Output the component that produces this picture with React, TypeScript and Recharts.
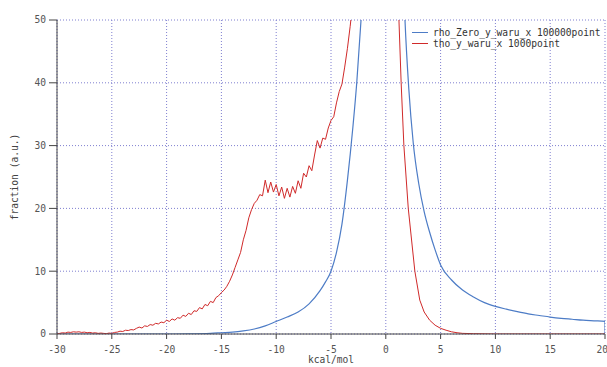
import { CartesianGrid, Label, Line, LineChart, XAxis, YAxis } from "recharts";

const xTicks = [-30, -25, -20, -15, -10, -5, 0, 5, 10, 15, 20];
const yTicks = [0, 10, 20, 30, 40, 50];

// rho_Zero_y_waru_x 100000point
const blueX = [
  -30, -28, -26, -24, -22, -20, -18, -16, -15, -14, -13, -12, -11, -10, -9, -8, -7, -6, -5.5, -5, -4.5,
  -4, -3.5, -3, -2.65, -2.26, -2, -1.5, -1, -0.5, 0, 0.5, 1, 1.5, 1.75, 2.1, 2.5, 3, 3.5, 4, 4.5, 5, 6,
  7, 8, 9, 10, 11, 12, 13, 14, 15, 16, 17, 18, 19, 20, 20.01,
];
const blueY = [
  0, 0, 0, 0, 0, 0, 0.02, 0.1, 0.2, 0.3, 0.5, 0.8, 1.3, 2.0, 2.7, 3.5, 4.8, 6.9, 8.3, 10, 13,
  17.5, 24.5, 33, 40, 50, 58, 75, 100, 130, 150, 130, 100, 62, 50, 39, 30.5, 24, 19.5, 16.2, 13.4, 11.0, 8.6,
  7.0, 5.9, 5.0, 4.4, 3.95, 3.55, 3.2, 2.95, 2.7, 2.5, 2.35, 2.2, 2.1, 2.0, 0,
];

// tho_y_waru_x 1000point
const redX = [
  -30, -29.75, -29.5, -29.25, -29, -28.75, -28.5, -28.25, -28, -27.75, -27.5, -27.25, -27, -26.75,
  -26.5, -26.25, -26, -25.75, -25.5, -25.25, -25, -24.75, -24.5, -24.25, -24, -23.75, -23.5, -23.25,
  -23, -22.75, -22.5, -22.25, -22, -21.75, -21.5, -21.25, -21, -20.75, -20.5, -20.25, -20, -19.75,
  -19.5, -19.25, -19, -18.75, -18.5, -18.25, -18, -17.75, -17.5, -17.25, -17, -16.75, -16.5, -16.25,
  -16, -15.75, -15.5, -15.25, -15, -14.75, -14.5, -14.25, -14, -13.75, -13.5, -13.25, -13, -12.75,
  -12.5, -12.25, -12, -11.75, -11.5, -11.25, -11, -10.75, -10.5, -10.25, -10, -9.75, -9.5, -9.25, -9,
  -8.75, -8.5, -8.25, -8, -7.75, -7.5, -7.25, -7, -6.75, -6.5, -6.25, -6, -5.75, -5.5, -5.25, -5,
  -4.75, -4.5, -4.25, -4, -3.75, -3.5, -3.25, -3, -2.5, -2, -1, 0, 1, 1.2, 1.4, 1.65, 2.05, 2.65, 3.1,
  3.5, 4, 4.5, 5, 5.5, 6, 6.5, 7, 8, 10, 15, 20,
];
const redY = [
  0, 0.1, 0.2, 0.15, 0.3, 0.25, 0.35, 0.3, 0.35, 0.25, 0.3, 0.2, 0.25, 0.15,
  0.2, 0.1, 0.15, 0.1, 0.05, 0.15, 0.1, 0.25, 0.3, 0.45, 0.4, 0.6, 0.55, 0.7,
  0.65, 0.9, 1.1, 0.95, 1.3, 1.2, 1.5, 1.4, 1.7, 1.6, 1.9, 1.8, 2.2, 2.0,
  2.4, 2.2, 2.6, 2.5, 3.0, 2.8, 3.3, 3.1, 3.7, 3.6, 4.2, 4.0, 4.7, 4.5,
  5.2, 5.0, 5.8, 6.1, 6.6, 7.0, 7.6, 8.4, 9.4, 10.6, 11.8, 13.0, 15.0, 16.5,
  18.5, 19.8, 20.8, 21.3, 22.2, 22.0, 24.5, 22.5, 24.2, 22.6, 23.8, 22.0, 23.4, 21.6, 23.2,
  21.8, 23.5, 22.4, 24.4, 23.2, 25.6, 25.0, 26.8, 26.0, 28.5, 30.8, 29.6, 31.2, 31.0, 32.8, 34.0,
  34.6, 36.8, 38.6, 39.8, 42.5, 45.5, 49.0, 53, 65, 80, 110, 150, 60, 50, 40, 30, 20, 10, 5.4,
  3.5, 2.2, 1.4, 0.9, 0.6, 0.35, 0.2, 0.1, 0.05, 0, 0, 0,
];

const blueData = blueX.map((x, i) => ({ x, y: blueY[i] }));
const redData = redX.map((x, i) => ({ x, y: redY[i] }));

const BLUE = "#4d7cc6";
const RED = "#d02a2a";
const FONT = "'DejaVu Sans Mono', monospace";

const legendItems = [
  { label: "rho_Zero_y_waru_x 100000point", color: BLUE },
  { label: "tho_y_waru_x 1000point", color: RED },
];

function LegendBox() {
  return (
    <div
      style={{
        position: "absolute",
        top: 27,
        left: 412,
        fontFamily: FONT,
        fontSize: 9.6,
        color: "#333",
        lineHeight: "11px",
      }}
    >
      {legendItems.map((it) => (
        <div key={it.label} style={{ display: "flex", alignItems: "center" }}>
          <span style={{ display: "inline-block", width: 16, height: 1.5, background: it.color, marginRight: 5 }} />
          <span style={{ whiteSpace: "nowrap" }}>{it.label}</span>
        </div>
      ))}
    </div>
  );
}

export default function App() {
  const tick = { fill: "#555", fontSize: 9.6, fontFamily: FONT };
  return (
    <div style={{ position: "absolute", left: 0, top: 0, width: 607, height: 367, background: "#fff", overflow: "hidden" }}>
      <LineChart width={607} height={367} margin={{ top: 20, right: 2, bottom: 0, left: 0 }}>
        <CartesianGrid stroke="#7f7fd0" strokeDasharray="1 2" horizontalValues={yTicks} verticalValues={xTicks} />
        <XAxis
          type="number"
          dataKey="x"
          domain={[-30, 20]}
          ticks={xTicks}
          allowDataOverflow
          height={33}
          stroke="#444"
          tickSize={5}
          tick={tick}
          tickMargin={7}
        >
          <Label value="kcal/mol" position="bottom" offset={-11} style={{ fill: "#444", fontSize: 9.6, fontFamily: FONT }} />
        </XAxis>
        <YAxis
          type="number"
          dataKey="y"
          domain={[0, 50]}
          ticks={yTicks}
          allowDataOverflow
          width={57}
          stroke="#444"
          tickSize={8}
          tick={tick}
          tickMargin={3}
        >
          <Label
            value="fraction (a.u.)"
            angle={-90}
            position="insideLeft"
            offset={15}
            style={{ fill: "#444", fontSize: 9.6, fontFamily: FONT, textAnchor: "middle" }}
          />
        </YAxis>
        <Line
          data={blueData}
          dataKey="y"
          type="monotone"
          stroke={BLUE}
          strokeWidth={1.2}
          dot={false}
          isAnimationActive={false}
        />
        <Line
          data={redData}
          dataKey="y"
          type="linear"
          stroke={RED}
          strokeWidth={1}
          dot={false}
          isAnimationActive={false}
        />
      </LineChart>
      <LegendBox />
    </div>
  );
}
